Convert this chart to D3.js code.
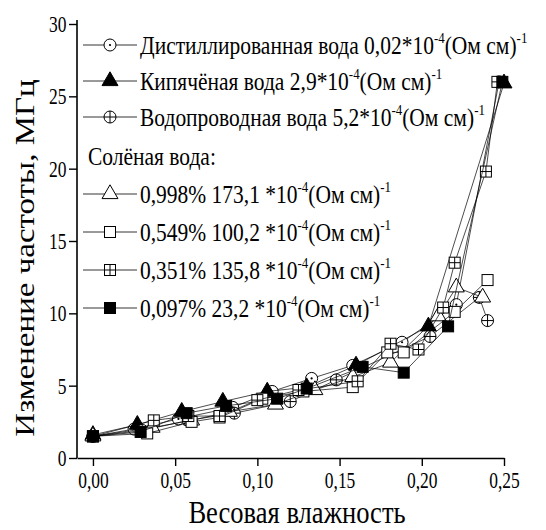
<!DOCTYPE html>
<html>
<head>
<meta charset="utf-8">
<style>
  body { margin: 0; background: #fff; }
  text { font-family: "Liberation Serif", "Times New Roman", serif; fill: #000; }
</style>
</head>
<body>
<svg width="546" height="530"></svg>
<script src="https://d3js.org/d3.v7.min.js"></script>
<script>
// moisture (x) / frequency change, MHz (y) for each water sample
var distX = [0, 0.025, 0.052, 0.085, 0.109, 0.133, 0.158, 0.188, 0.221, 0.247];
var distY = [1.5, 2.0, 2.7, 3.5, 4.6, 5.5, 6.4, 8.0, 10.6, 26.0];
var boilX = [0, 0.027, 0.054, 0.079, 0.106, 0.130, 0.160, 0.204, 0.250];
var boilY = [1.6, 2.3, 3.2, 3.9, 4.6, 4.9, 6.4, 9.1, 25.9];
var tapX = [0, 0.030, 0.058, 0.086, 0.120, 0.148, 0.205, 0.235, 0.240];
var tapY = [1.5, 1.9, 2.6, 3.1, 3.9, 5.4, 8.4, 11.1, 9.5];
var s998X = [0, 0.036, 0.060, 0.083, 0.111, 0.135, 0.158, 0.181, 0.210, 0.221, 0.237];
var s998Y = [1.5, 2.1, 2.6, 3.2, 3.7, 4.7, 5.6, 6.6, 9.8, 11.8, 11.1];
var s549X = [0, 0.033, 0.060, 0.077, 0.103, 0.128, 0.158, 0.179, 0.189, 0.220, 0.240];
var s549Y = [1.5, 1.7, 2.5, 2.8, 4.1, 4.6, 4.9, 7.3, 7.3, 10.1, 12.3];
var s351X = [0, 0.037, 0.058, 0.077, 0.100, 0.125, 0.161, 0.181, 0.198, 0.213, 0.220, 0.239, 0.246];
var s351Y = [1.5, 2.6, 2.9, 2.9, 4.0, 4.7, 5.3, 7.9, 7.5, 10.4, 13.5, 19.8, 26.0];
var s097X = [0, 0.029, 0.057, 0.081, 0.112, 0.130, 0.164, 0.189, 0.216, 0.249];
var s097Y = [1.5, 1.8, 3.1, 3.6, 4.1, 4.8, 6.3, 5.9, 9.1, 26.0];

var xTicks = [0, 0.05, 0.10, 0.15, 0.20, 0.25];
var xTickLabels = ["0,00", "0,05", "0,10", "0,15", "0,20", "0,25"];
var yTicks = [0, 5, 10, 15, 20, 25, 30];

var series = [
  {x: distX, y: distY, mark: "circleDot", label: ["Дистиллированная вода 0,02*10", "-4", "(Ом см)", "-1"]},
  {x: boilX, y: boilY, mark: "triFilled", label: ["Кипячёная вода 2,9*10", "-4", "(Ом см)", "-1"]},
  {x: tapX, y: tapY, mark: "circlePlus", label: ["Водопроводная вода 5,2*10", "-4", "(Ом см)", "-1"]},
  {x: s998X, y: s998Y, mark: "triOpen", label: ["0,998% 173,1 *10", "-4", "(Ом см)", "-1"]},
  {x: s549X, y: s549Y, mark: "squareOpen", label: ["0,549% 100,2 *10", "-4", "(Ом см)", "-1"]},
  {x: s351X, y: s351Y, mark: "squarePlus", label: ["0,351% 135,8 *10", "-4", "(Ом см)", "-1"]},
  {x: s097X, y: s097Y, mark: "squareFilled", label: ["0,097% 23,2 *10", "-4", "(Ом см)", "-1"]}
];

var svg = d3.select("svg");
var x = d3.scaleLinear().domain([-0.0097, 0.25]).range([77, 504]);
var y = d3.scaleLinear().domain([0, 30]).range([458, 24]);

// axes
var xAxis = svg.append("g").attr("transform", "translate(0,458)");
xAxis.call(d3.axisBottom(x).tickValues(d3.range(0.025, 0.25, 0.05)).tickSize(6).tickSizeOuter(0).tickFormat(""));
xAxis.call(d3.axisBottom(x).tickValues(xTicks).tickSize(8).tickSizeOuter(0)
  .tickFormat(function(d, i) { return xTickLabels[i]; }));
xAxis.selectAll("text").attr("y", 14).attr("dy", "0.71em")
  .style("font-size", "23px").attr("transform", "scale(0.76,1)");

var yAxis = svg.append("g").attr("transform", "translate(77,0)");
yAxis.call(d3.axisLeft(y).tickValues(d3.range(2.5, 30, 5)).tickSize(5).tickSizeOuter(0).tickFormat(""));
yAxis.call(d3.axisLeft(y).tickValues(yTicks).tickSize(8).tickSizeOuter(0));
yAxis.selectAll("text").attr("x", -14).style("font-size", "23px").attr("transform", "scale(0.76,1)");

svg.selectAll(".domain").attr("stroke-width", 1.6);
svg.selectAll(".tick line").attr("stroke-width", 1.4);
yAxis.select(".domain").attr("d", "M0,458V20");

// markers
function drawMark(g, type, cx, cy) {
  var m = g.append("g").attr("transform", "translate(" + cx + "," + cy + ")");
  var sw = 1;
  if (type === "circleDot" || type === "circlePlus") {
    m.append("circle").attr("r", 6).attr("fill", "#fff").attr("stroke", "#000").attr("stroke-width", sw);
    if (type === "circleDot") {
      m.append("circle").attr("r", 1.1).attr("fill", "#000");
    } else {
      m.append("path").attr("d", "M-6,0H6M0,-6V6").attr("stroke", "#000").attr("stroke-width", sw);
    }
  } else if (type === "triFilled" || type === "triOpen") {
    m.append("path").attr("d", d3.symbol(d3.symbolTriangle, 110)())
      .attr("fill", type === "triFilled" ? "#000" : "#fff").attr("stroke", "#000").attr("stroke-width", sw);
  } else {
    m.append("rect").attr("x", -5.5).attr("y", -5.5).attr("width", 11).attr("height", 11)
      .attr("fill", type === "squareFilled" ? "#000" : "#fff").attr("stroke", "#000").attr("stroke-width", sw);
    if (type === "squarePlus") {
      m.append("path").attr("d", "M-5.5,0H5.5M0,-5.5V5.5").attr("stroke", "#000").attr("stroke-width", sw);
    }
  }
}

var line = d3.line().x(function(d) { return x(d[0]); }).y(function(d) { return y(d[1]); });

series.forEach(function(s) {
  var pts = s.x.map(function(v, i) { return [v, s.y[i]]; });
  var g = svg.append("g");
  g.append("path").datum(pts).attr("d", line)
    .attr("fill", "none").attr("stroke", "#000").attr("stroke-width", 0.7);
  pts.forEach(function(p) { drawMark(g, s.mark, x(p[0]), y(p[1])); });
});

// legend
var rowY = [45, 81, 117, 194, 232, 270, 308];
function label(g, parts, tx, ty) {
  var t = g.append("text").attr("transform", "translate(" + tx + "," + ty + ") scale(0.86,1)")
    .style("font-size", "25px");
  parts.forEach(function(p, i) {
    var sp = t.append("tspan").text(p);
    if (i % 2 === 1) sp.style("font-size", "15px").attr("dy", -11);
    else if (i > 0) sp.attr("dy", 11);
  });
}
var leg = svg.append("g");
series.forEach(function(s, i) {
  var ly = rowY[i];
  leg.append("path").attr("d", "M83," + ly + "H137").attr("stroke", "#000").attr("stroke-width", 0.8);
  drawMark(leg, s.mark, 110, ly);
  label(leg, s.label, 140, ly + 9);
});
leg.append("text").attr("transform", "translate(88,165) scale(0.86,1)").style("font-size", "25px")
  .text("Солёная вода:");

// titles
svg.append("text").attr("transform", "translate(297,523) scale(0.83,1)")
  .attr("text-anchor", "middle").style("font-size", "32px").text("Весовая влажность");
svg.append("text").attr("transform", "translate(34,258) scale(0.85,1) rotate(-90)")
  .attr("text-anchor", "middle").style("font-size", "33px").text("Изменение частоты, МГц");
</script>
</body>
</html>
